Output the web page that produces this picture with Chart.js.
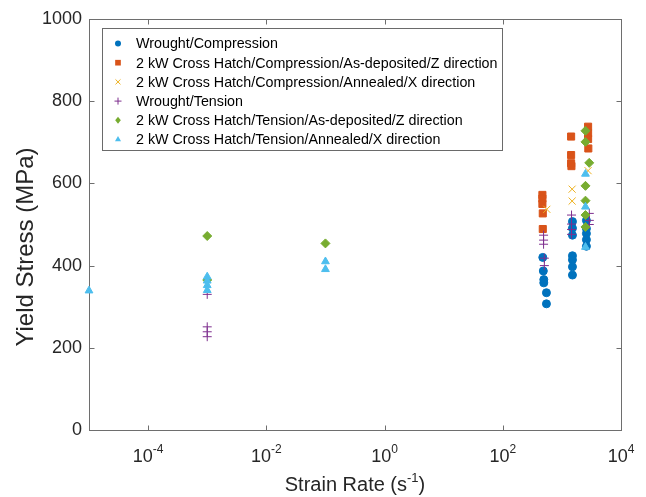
<!DOCTYPE html>
<html>
<head>
<meta charset="utf-8">
<script src="https://cdn.jsdelivr.net/npm/chart.js@4.4.1/dist/chart.umd.min.js"></script>
<style>
  html, body { margin: 0; padding: 0; background: #fff; }
  #wrap { width: 646px; height: 497px; }
</style>
</head>
<body>
<div id="wrap"><canvas id="c" width="646" height="497"></canvas></div>
<script>
// ---------------- DATA ----------------
const seriesNames = [
  'Wrought/Compression',
  '2 kW Cross Hatch/Compression/As-deposited/Z direction',
  '2 kW Cross Hatch/Compression/Annealed/X direction',
  'Wrought/Tension',
  '2 kW Cross Hatch/Tension/As-deposited/Z direction',
  '2 kW Cross Hatch/Tension/Annealed/X direction'
];

// Wrought / Compression
const wroughtCompRate   = [475, 485, 494, 494, 548, 548, 1510, 1510, 1510, 1510, 1510, 1510, 1510, 2600, 2600, 2600, 2600, 2600];
const wroughtCompStress = [420, 387, 366, 358, 334, 307, 507, 491, 474, 424, 414, 397, 377, 510, 490, 478, 463, 447];

// 2 kW Cross Hatch / Compression / As-deposited / Z
const zCompRate   = [468, 468, 468, 475, 475, 1432, 1432, 1432, 1450, 2775, 2775, 2775, 2800];
const zCompStress = [572, 563, 550, 527, 489, 714, 669, 649, 642, 738, 722, 708, 685];

// 2 kW Cross Hatch / Compression / Annealed / X
const xCompRate   = [556, 1490, 1490, 2775];
const xCompStress = [537, 586, 557, 631];

// Wrought / Tension
const wroughtTenRate   = [0.001, 0.001, 0.001, 0.001, 490, 490, 490, 505, 505, 1455, 1455, 1455, 1455, 2910, 2910, 2910];
const wroughtTenStress = [330, 251, 239, 227, 474, 462, 452, 418, 400, 523, 501, 488, 476, 527, 510, 500];

// 2 kW Cross Hatch / Tension / As-deposited / Z
const zTenRate   = [0.001, 0.001, 0.1, 2506, 2506, 2900, 2506, 2506, 2506, 2506];
const zTenStress = [472, 365, 454, 728, 701, 650, 594, 558, 523, 494];

// 2 kW Cross Hatch / Tension / Annealed / X
const xTenRate   = [0.00001, 0.001, 0.001, 0.001, 0.001, 0.1, 0.1, 2506, 2506, 2506];
const xTenStress = [339, 373, 363, 352, 340, 410, 391, 623, 543, 445];

const xTickValues = [1e-4, 1e-2, 1e0, 1e2, 1e4];
const xTickExps   = ['-4', '-2', '0', '2', '4'];
const yTickValues = [0, 200, 400, 600, 800, 1000];
const xTitleMain = 'Strain Rate (s';
const xTitleSup  = '-1';
const yTitle = 'Yield Stress (MPa)';

// ---------------- STYLE ----------------
const FONT = '"Liberation Sans", Arial, Helvetica, sans-serif';
const colors = ['rgb(0,114,189)', 'rgb(217,83,25)', 'rgb(237,177,32)', 'rgb(126,47,142)', 'rgb(119,172,48)', 'rgb(77,190,238)'];
const styles = ['circle', 'rect', 'crossRot', 'cross', 'rectRot', 'triangle'];
const radii  = [4, 5, 5, 4.5, 4.5, 4.5];
const filled = [true, true, false, false, true, true];

function pts(xs, ys) { return xs.map((x, i) => ({ x: x, y: ys[i] })); }
const allData = [
  pts(wroughtCompRate, wroughtCompStress),
  pts(zCompRate, zCompStress),
  pts(xCompRate, xCompStress),
  pts(wroughtTenRate, wroughtTenStress),
  pts(zTenRate, zTenStress),
  pts(xTenRate, xTenStress)
];

const datasets = allData.map((d, i) => ({
  label: seriesNames[i],
  data: d,
  pointStyle: styles[i],
  pointRadius: radii[i],
  pointHoverRadius: radii[i],
  backgroundColor: filled[i] ? colors[i] : 'rgba(0,0,0,0)',
  borderColor: colors[i],
  borderWidth: 1,
  order: 6 - i,
  clip: false,
  showLine: false
}));

// ---------------- DECORATION PLUGIN ----------------
function drawMarker(ctx, style, color, x, y, r) {
  ctx.save();
  ctx.fillStyle = color; ctx.strokeStyle = color; ctx.lineWidth = 1;
  ctx.beginPath();
  if (style === 'circle') { ctx.arc(x, y, r, 0, Math.PI * 2); ctx.fill(); }
  else if (style === 'rect') { ctx.rect(x - r * 0.707, y - r * 0.707, r * 1.414, r * 1.414); ctx.fill(); }
  else if (style === 'crossRot') { const d = r * 0.707; ctx.moveTo(x - d, y - d); ctx.lineTo(x + d, y + d); ctx.moveTo(x - d, y + d); ctx.lineTo(x + d, y - d); ctx.stroke(); }
  else if (style === 'cross') { ctx.moveTo(x - r, y); ctx.lineTo(x + r, y); ctx.moveTo(x, y - r); ctx.lineTo(x, y + r); ctx.stroke(); }
  else if (style === 'rectRot') { ctx.moveTo(x, y - r); ctx.lineTo(x + r * 0.8, y); ctx.lineTo(x, y + r); ctx.lineTo(x - r * 0.8, y); ctx.closePath(); ctx.fill(); }
  else if (style === 'triangle') { ctx.moveTo(x, y - r); ctx.lineTo(x + r * 0.866, y + r * 0.5); ctx.lineTo(x - r * 0.866, y + r * 0.5); ctx.closePath(); ctx.fill(); }
  ctx.restore();
}

const deco = {
  id: 'deco',
  beforeDatasetsDraw(chart) {
    const ctx = chart.ctx;
    const a = chart.chartArea;
    const xs = chart.scales.x, ys = chart.scales.y;
    ctx.save();
    // frame
    ctx.strokeStyle = '#6e6e6e';
    ctx.lineWidth = 1;
    const L = Math.round(a.left) + 0.5, R = Math.round(a.right) + 0.5, T = Math.round(a.top) + 0.5, B = Math.round(a.bottom) + 0.5;
    ctx.strokeRect(L, T, R - L, B - T);
    // ticks (inward)
    ctx.beginPath();
    yTickValues.forEach(v => {
      const py = Math.round(ys.getPixelForValue(v)) + 0.5;
      ctx.moveTo(L, py); ctx.lineTo(L + 5, py);
      ctx.moveTo(R, py); ctx.lineTo(R - 5, py);
    });
    xTickValues.forEach(v => {
      const px = Math.round(xs.getPixelForValue(v)) + 0.5;
      ctx.moveTo(px, B); ctx.lineTo(px, B - 5);
      ctx.moveTo(px, T); ctx.lineTo(px, T + 5);
    });
    ctx.stroke();

    // x tick labels with superscript
    ctx.fillStyle = '#262626';
    ctx.textBaseline = 'alphabetic';
    ctx.textAlign = 'left';
    xTickValues.forEach((v, i) => {
      const px = xs.getPixelForValue(v);
      ctx.font = '18px ' + FONT;
      const w1 = ctx.measureText('10').width;
      ctx.font = '12px ' + FONT;
      const w2 = ctx.measureText(xTickExps[i]).width;
      const x0 = px - (w1 + w2) / 2;
      ctx.font = '18px ' + FONT;
      ctx.fillText('10', x0, 462);
      ctx.font = '12px ' + FONT;
      ctx.fillText(xTickExps[i], x0 + w1, 453);
    });

    // x title
    ctx.font = '20px ' + FONT;
    const t1 = ctx.measureText(xTitleMain).width;
    const tp = ctx.measureText(')').width;
    ctx.font = '13px ' + FONT;
    const ts = ctx.measureText(xTitleSup).width;
    const cx = (a.left + a.right) / 2;
    let sx = cx - (t1 + ts + tp) / 2;
    ctx.font = '20px ' + FONT;
    ctx.fillText(xTitleMain, sx, 491);
    ctx.font = '13px ' + FONT;
    ctx.fillText(xTitleSup, sx + t1, 482);
    ctx.font = '20px ' + FONT;
    ctx.fillText(')', sx + t1 + ts, 491);

    // y title
    ctx.save();
    ctx.translate(26, 247);
    ctx.rotate(-Math.PI / 2);
    ctx.textAlign = 'center';
    ctx.textBaseline = 'middle';
    ctx.font = '24px ' + FONT;
    ctx.fillText(yTitle, 0, 0);
    ctx.restore();
    ctx.restore();
  },
  afterDraw(chart) {
    const ctx = chart.ctx;
    ctx.save();
    // legend
    const lx = 102.5, ly = 28.5, lw = 400, lh = 122;
    ctx.fillStyle = '#fff';
    ctx.fillRect(lx, ly, lw, lh);
    ctx.strokeStyle = '#6a6a6a';
    ctx.lineWidth = 1;
    ctx.strokeRect(lx, ly, lw, lh);
    ctx.font = '14.3px ' + FONT;
    ctx.textAlign = 'left';
    ctx.textBaseline = 'middle';
    seriesNames.forEach((name, i) => {
      const yy = 43.5 + i * 19.2;
      drawMarker(ctx, styles[i], colors[i], 118, yy, i === 0 ? 3 : (i === 1 ? 4 : 3.5));
      ctx.fillStyle = '#000';
      ctx.fillText(name, 136, yy + 1);
    });
    ctx.restore();
  }
};

new Chart(document.getElementById('c'), {
  type: 'scatter',
  data: { datasets: datasets },
  options: {
    responsive: false,
    animation: false,
    devicePixelRatio: 1,
    layout: { padding: { left: 0, right: 25, top: 19, bottom: 0 } },
    scales: {
      x: {
        type: 'logarithmic',
        min: 1e-5, max: 1e4,
        afterBuildTicks(s) { s.ticks = xTickValues.map(v => ({ value: v })); },
        afterFit(s) { s.height = 67; },
        ticks: { display: false },
        grid: { display: false, drawTicks: false },
        border: { display: false }
      },
      y: {
        min: 0, max: 1000,
        afterBuildTicks(s) { s.ticks = yTickValues.map(v => ({ value: v })); },
        afterFit(s) { s.width = 89; },
        ticks: { color: '#262626', padding: 7, font: { family: FONT, size: 18 }, callback: v => String(v) },
        grid: { display: false, drawTicks: false },
        border: { display: false }
      }
    },
    plugins: { legend: { display: false }, tooltip: { enabled: false } }
  },
  plugins: [deco]
});
</script>
</body>
</html>
